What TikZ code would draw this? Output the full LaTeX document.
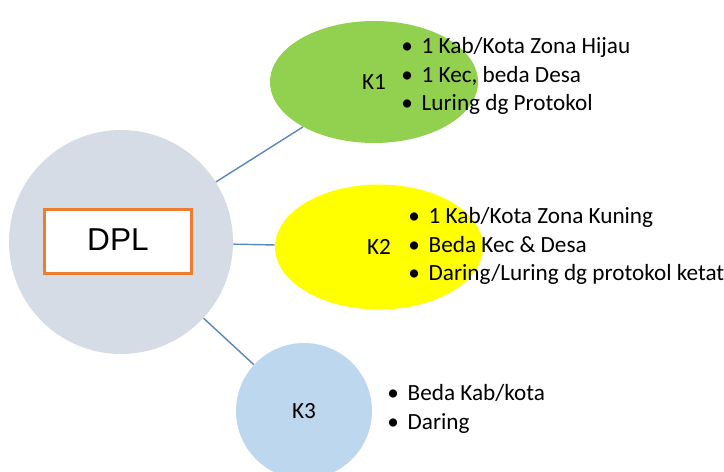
\documentclass[tikz,border=0pt]{standalone}
\usepackage{fontspec}
\setmainfont{Carlito}
\newfontfamily\arialfont{Liberation Sans}
\usepackage{tikz}
\usetikzlibrary{shapes.geometric}
\definecolor{dplgray}{HTML}{D6DCE5}
\definecolor{boxorange}{HTML}{ED7D31}
\definecolor{kgreen}{HTML}{92D050}
\definecolor{kyellow}{HTML}{FFFF00}
\definecolor{kblue}{HTML}{BDD7EE}
\definecolor{linkblue}{HTML}{5B87B8}
\tikzset{t/.style={font=\fontsize{13.2}{16.4}\selectfont, align=left, anchor=west, inner sep=0pt}}
\tikzset{k/.style={font=\fontsize{13.2}{13.2}\selectfont, inner sep=0pt}}
\tikzset{c/.style={draw=linkblue, line width=0.8pt}}

\begin{document}
\begin{tikzpicture}
        \clip (0,0) rectangle (14.48,9.44);
        \node (dpl) [circle, fill=dplgray, minimum size=4.48cm, inner sep=0pt] at (2.42,4.60) {};
        \node (box) [draw=boxorange, line width=1.7pt, fill=white, minimum width=2.94cm,
          minimum height=1.28cm, font=\arialfont\fontsize{18}{18}\selectfont] at (2.36,4.61) {\raisebox{2pt}{DPL}};
        \node (K1) [k, ellipse, fill=kgreen, minimum width=4.16cm, minimum height=2.44cm] at (7.48,7.80) {K1}
          edge [c] (dpl);
        \node (K2) [k, ellipse, fill=kyellow, minimum width=4.16cm, minimum height=2.50cm] at (7.58,4.50) {K2}
          edge [c] (dpl);
        \node (K3) [k, circle, fill=kblue, minimum size=2.72cm] at (6.08,1.22) {K3}
          edge [c] (dpl);
        \node (L1) [t] at (8.02,7.92) {\textbullet\hspace{5pt}1 Kab/Kota Zona Hijau\\
          \textbullet\hspace{5pt}1 Kec, beda Desa\\
          \textbullet\hspace{5pt}Luring dg Protokol};
        \node (L2) [t] at (8.16,4.52) {\textbullet\hspace{5pt}1 Kab/Kota Zona Kuning\\
          \textbullet\hspace{5pt}Beda Kec \& Desa\\
          \textbullet\hspace{5pt}Daring/Luring dg protokol ketat};
        \node (L3) [t] at (7.74,1.26) {\textbullet\hspace{5pt}Beda Kab/kota\\
          \textbullet\hspace{5pt}Daring};
      \end{tikzpicture}
\end{document}
